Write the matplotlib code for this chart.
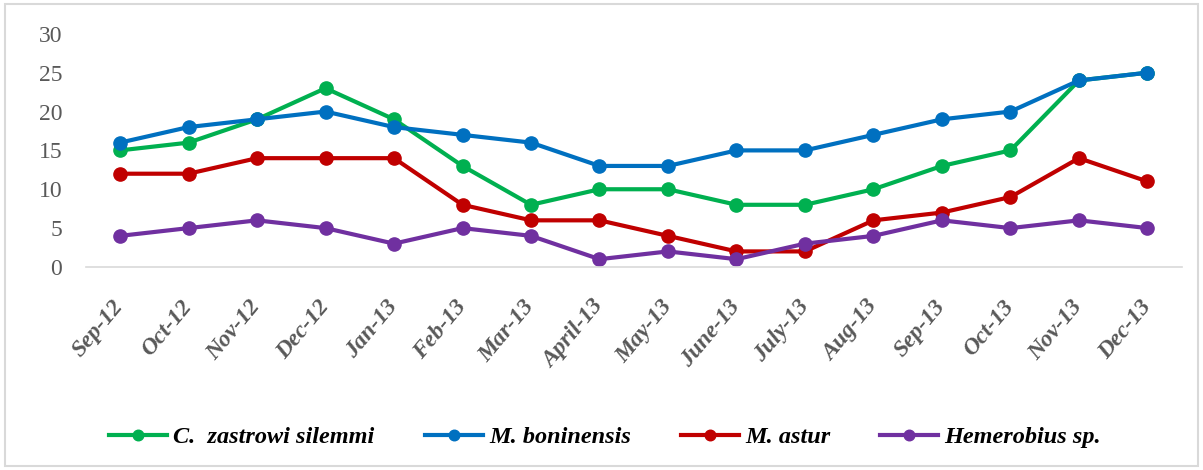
import matplotlib
matplotlib.use("Agg")
import matplotlib.pyplot as plt
from matplotlib.patches import Rectangle

months = ["Sep-12", "Oct-12", "Nov-12", "Dec-12", "Jan-13", "Feb-13", "Mar-13", "April-13",
          "May-13", "June-13", "July-13", "Aug-13", "Sep-13", "Oct-13", "Nov-13", "Dec-13"]
c_zastrowi = [15, 16, 19, 23, 19, 13, 8, 10, 10, 8, 8, 10, 13, 15, 24, 25]
m_boninensis = [16, 18, 19, 20, 18, 17, 16, 13, 13, 15, 15, 17, 19, 20, 24, 25]
m_astur = [12, 12, 14, 14, 14, 8, 6, 6, 4, 2, 2, 6, 7, 9, 14, 11]
hemerobius = [4, 5, 6, 5, 3, 5, 4, 1, 2, 1, 3, 4, 6, 5, 6, 5]

series = [
    ("C.  zastrowi silemmi", c_zastrowi, "#00B050"),
    ("M. boninensis", m_boninensis, "#0070C0"),
    ("M. astur", m_astur, "#C00000"),
    ("Hemerobius sp.", hemerobius, "#7030A0"),
]

fig = plt.figure(figsize=(12.03, 4.70), dpi=100)
fig.patches.append(Rectangle((0.004, 0.008), 0.992, 0.984, transform=fig.transFigure,
                             fill=False, edgecolor="#D9D9D9", linewidth=1.5))
ax = fig.add_axes([0.0713, 0.432, 0.911, 0.496])

x = list(range(len(months)))
for name, vals, col in series:
    ax.plot(x, vals, color=col, linewidth=3, marker="o", markersize=9.5, label=name)

ax.set_xlim(-0.5, len(months) - 0.5)
ax.set_ylim(0, 30)
ax.set_yticks([0, 5, 10, 15, 20, 25, 30])
for s in ["top", "right", "left"]:
    ax.spines[s].set_visible(False)
ax.spines["bottom"].set_color("#D9D9D9")
ax.spines["bottom"].set_linewidth(1.2)
ax.tick_params(axis="both", length=0)
ax.tick_params(axis="y", pad=17)
ax.set_yticklabels([str(v) for v in [0, 5, 10, 15, 20, 25, 30]],
                   fontfamily="Liberation Serif", fontsize=17, color="#595959")
ax.set_xticks(x)
ax.set_xticklabels(months, rotation=50, ha="right", va="center", rotation_mode="anchor",
                   fontfamily="Liberation Serif", fontsize=17, fontweight="bold",
                   fontstyle="italic", color="#595959")
ax.tick_params(axis="x", pad=26)

leg = fig.legend(loc="center", bbox_to_anchor=(0.503, 0.07), ncol=4, frameon=False,
                 prop={"family": "Liberation Serif", "size": 17.5, "weight": "bold", "style": "italic"},
                 handlelength=2.4, handletextpad=0.25, columnspacing=2.05, markerscale=0.8)

fig.savefig("out.png", dpi=100)
